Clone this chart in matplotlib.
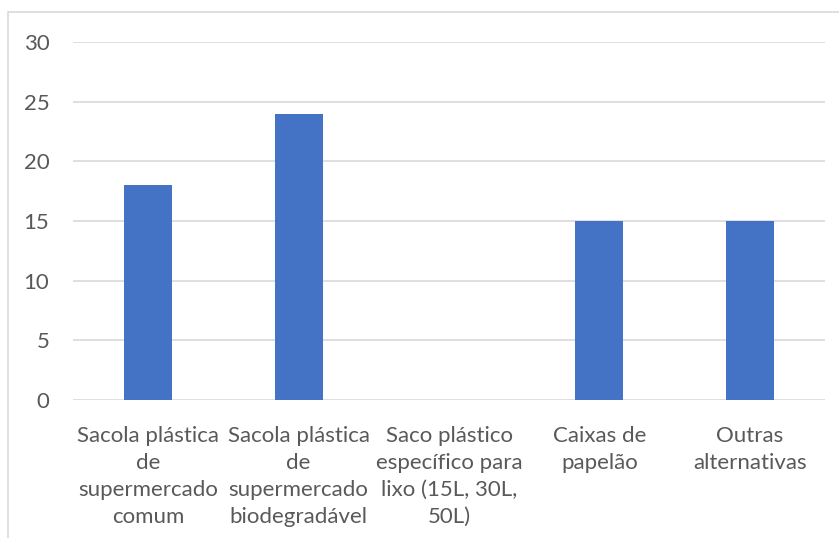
import matplotlib.pyplot as plt
from matplotlib.patches import Rectangle

categories = ["Sacola plástica\nde\nsupermercado\ncomum",
              "Sacola plástica\nde\nsupermercado\nbiodegradável",
              "Saco plástico\nespecífico para\nlixo (15L, 30L,\n50L)",
              "Caixas de\npapelão",
              "Outras\nalternativas"]
values = [18, 24, 0, 15, 15]
yticks = [0, 5, 10, 15, 20, 25, 30]

plt.rcParams['font.family'] = ['Lato', 'DejaVu Sans']

fig = plt.figure(figsize=(8.39, 5.38), dpi=100)
ax = fig.add_axes([73 / 839, 1 - 400 / 538, 752 / 839, 358 / 538])

x = list(range(len(categories)))
ax.bar(x, values, width=0.32, color='#4472C4', zorder=3)
ax.set_xlim(-0.5, len(categories) - 0.5)
ax.set_ylim(0, 30)
ax.set_yticks(yticks)
ax.set_xticks(x)
ax.set_xticklabels(categories, linespacing=1.42)
ax.tick_params(length=0, labelsize=16, colors='#595959')
ax.tick_params(axis='x', pad=19)
ax.tick_params(axis='y', pad=17)
ax.grid(axis='y', color='#D9D9D9', linewidth=1.2, zorder=0)
for s in ax.spines.values():
    s.set_visible(False)

# chart frame (cropped)
fig.patches.append(Rectangle((8 / 839, -0.1), 1.2, 1 - 12 / 538 + 0.1,
                             transform=fig.transFigure, fill=False,
                             edgecolor='#D9D9D9', linewidth=1.2))

fig.savefig('out.png', dpi=100)
